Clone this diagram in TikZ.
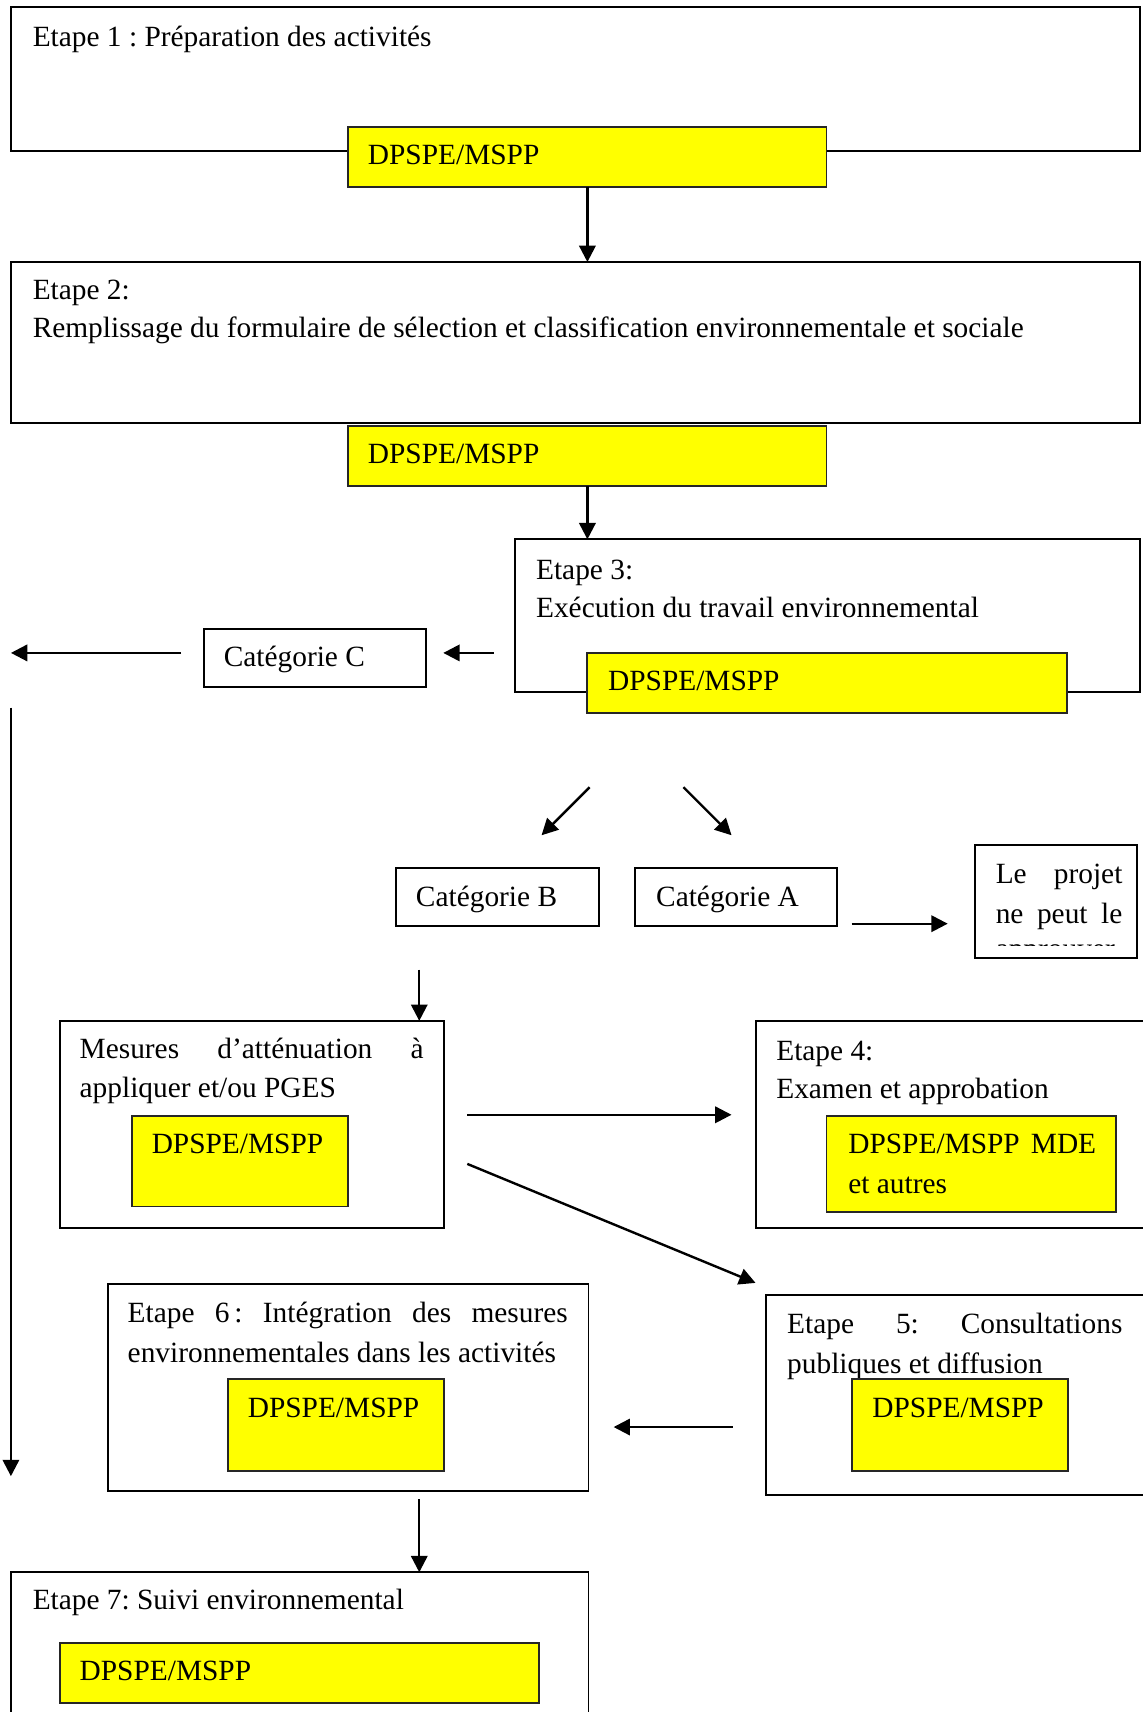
\documentclass[tikz,border=0pt]{standalone}
\usepackage{fontspec}
\setmainfont{Liberation Serif}
\usetikzlibrary{arrows.meta,fit}
\definecolor{yel}{RGB}{255,255,0}
\frenchspacing
\begin{document}
\begin{tikzpicture}[x=0.5pt,y=-0.5pt,
  every node/.style={font=\fontsize{13.45}{16}\selectfont, inner sep=0pt, outer sep=0pt},
  box/.style={draw, line width=0.9pt, fill=white},
  ybox/.style={draw=black!85, line width=0.85pt, fill=yel},
  txt/.style={anchor=base west, yshift=-0.75pt},
  arr/.style={-{Triangle[length=7.5pt,width=7.5pt]}, line width=1.1pt},
]
\useasboundingbox (0,0) rectangle (1046,1568);
\fill[white] (0,0) rectangle (1046,1568);

% Etape 1
\node[box, fit={(10,6) (1044,138)}] (b1) {};
\node[ybox, fit={(319,116) (757,171)}] (y1) {};
\node[txt] (t1) at (30,41) {Etape 1 : Préparation des activités};
\node[txt] (ty1) at (337,149) {DPSPE/MSPP};

% Etape 2
\node[box, fit={(10,240) (1044,387)}] (b2) {};
\node[ybox, fit={(319,390) (757,445)}] (y2) {};
\node[txt] (t2a) at (30,273) {Etape 2:};
\node[txt] (t2b) at (30,308) {Remplissage du formulaire de sélection et classification environnementale et sociale};
\node[txt] (ty2) at (337,423) {DPSPE/MSPP};

% Etape 3
\node[box, fit={(472,494) (1044,634)}] (b3) {};
\node[ybox, fit={(538,598) (977,653)}] (y3) {};
\node[txt] (t3a) at (491,529) {Etape 3:};
\node[txt] (t3b) at (491,564) {Exécution du travail environnemental};
\node[txt] (ty3) at (557,631) {DPSPE/MSPP};

% Categories
\node[box, fit={(187,576) (390,629)}] (cC) {};
\node[txt] (tcC) at (205,609) {Catégorie C};
\node[box, fit={(363,795) (549,848)}] (cB) {};
\node[txt] (tcB) at (381,829) {Catégorie B};
\node[box, fit={(582,795) (767,848)}] (cA) {};
\node[txt] (tcA) at (601,829) {Catégorie A};

% Le projet
\node[box, fit={(893,774) (1041,877)}] (bp) {};
\node[txt] (tp1) at (912,808) {\makebox[58pt][s]{Le projet}};
\node[txt] (tp2) at (912,844) {\makebox[58pt][s]{ne peut le}};
\begin{scope}
  \clip (895,776) rectangle (1039,866);
  \node[txt] (tp3) at (912,876) {approuver};
\end{scope}

% Mesures
\node[box, fit={(55,935) (407,1125)}] (bm) {};
\node[ybox, fit={(121,1022) (319,1105)}] (ym) {};
\node[txt] (tma) at (73,968) {\makebox[157.5pt][s]{Mesures d’atténuation à}};
\node[txt] (tmb) at (73,1004) {appliquer et/ou PGES};
\node[txt] (tym) at (139,1055) {DPSPE/MSPP};

% Etape 4
\node[box, fit={(692,935) (1052,1125)}] (b4) {};
\node[ybox, fit={(757,1022) (1022,1110)}] (y4) {};
\node[txt] (t4a) at (711,970) {Etape 4:};
\node[txt] (t4b) at (711,1005) {Examen et approbation};
\node[txt] (ty4a) at (777,1055) {\makebox[113.5pt][s]{DPSPE/MSPP MDE}};
\node[txt] (ty4b) at (777,1092) {et autres};

% Etape 5
\node[box, fit={(702,1186) (1052,1369)}] (b5) {};
\node[txt] (t5a) at (721,1220) {\makebox[153.5pt][s]{Etape 5: Consultations}};
\node[txt] (t5b) at (721,1256) {publiques et diffusion};
\node[ybox, fit={(780,1263) (978,1347)}] (y5) {};
\node[txt] (ty5) at (799,1297) {DPSPE/MSPP};

% Etape 6
\node[box, fit={(99,1176) (539,1366)}] (b6) {};
\node[ybox, fit={(209,1263) (407,1347)}] (y6) {};
\node[txt] (t6a) at (117,1210) {\makebox[201.5pt][s]{Etape 6\,: Intégration des mesures}};
\node[txt] (t6b) at (117,1246) {environnementales dans les activités};
\node[txt] (ty6) at (227,1297) {DPSPE/MSPP};

% Etape 7
\node[box, fit={(10,1440) (539,1590)}] (b7) {};
\node[ybox, fit={(55,1505) (494,1560)}] (y7) {};
\node[txt] (t7) at (30,1473) {Etape 7: Suivi environnemental};
\node[txt] (ty7) at (73,1538) {DPSPE/MSPP};

% free arrow ends
\coordinate (c1s) at (452,598);
\coordinate (c1e) at (406,598);
\coordinate (c2s) at (166,598);
\coordinate (c2e) at (10,598);
\coordinate (ls) at (10,648);
\coordinate (le) at (10,1352);
\coordinate (d1s) at (540,721);
\coordinate (d1e) at (496,765);
\coordinate (d2s) at (626,721);
\coordinate (d2e) at (670,765);
\coordinate (as) at (780,846);
\coordinate (ae) at (868,846);
\coordinate (bs) at (384,888);
\coordinate (m1s) at (428,1021);
\coordinate (m1e) at (670,1021);
\coordinate (m2s) at (428,1066);
\coordinate (m2e) at (692,1175);
\coordinate (f5s) at (671,1307);
\coordinate (f5e) at (562,1307);
\coordinate (g6s) at (384,1373);

% connectors
\draw[arr] (y1.south) -- (y1.south |- b2.north);
\draw[arr] (y2.south) -- (y2.south |- b3.north);
\draw[arr] (c1s) -- (c1e);
\draw[arr] (c2s) -- (c2e);
\draw[arr] (ls) -- (le);
\draw[arr] (d1s) -- (d1e);
\draw[arr] (d2s) -- (d2e);
\draw[arr] (as) -- (ae);
\draw[arr] (bs) -- (bs |- bm.north);
\draw[arr] (m1s) -- (m1e);
\draw[arr] (m2s) -- (m2e);
\draw[arr] (f5s) -- (f5e);
\draw[arr] (g6s) -- (g6s |- b7.north);
\end{tikzpicture}
\end{document}
